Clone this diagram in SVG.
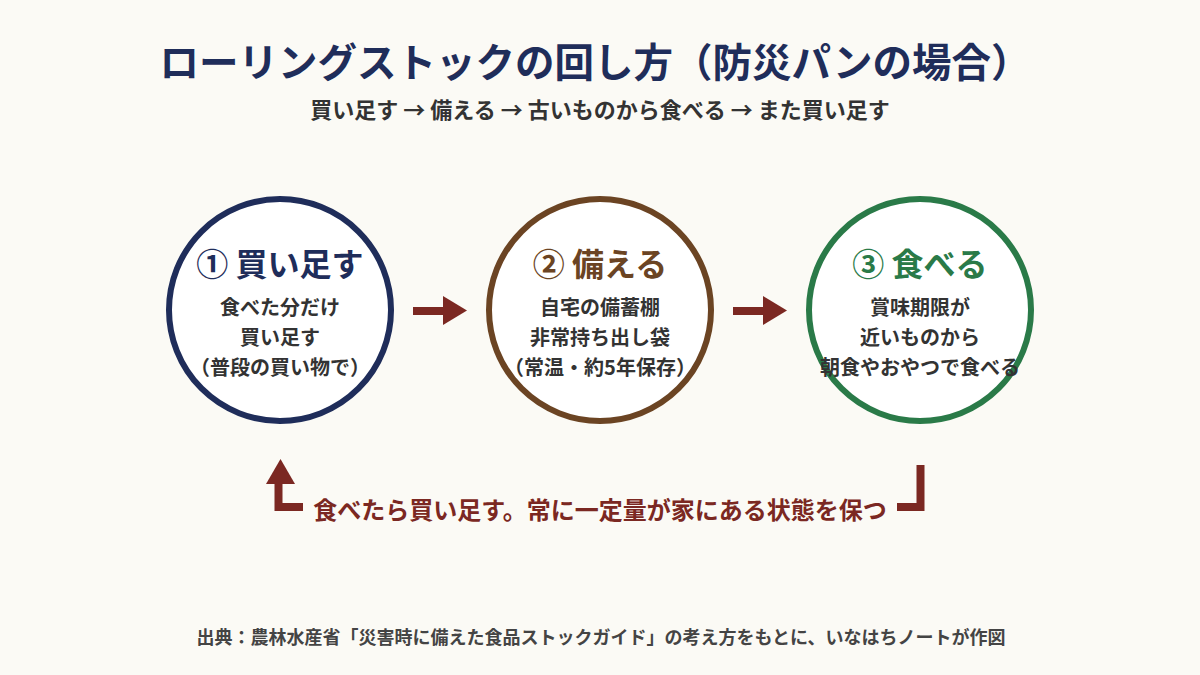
<svg xmlns="http://www.w3.org/2000/svg" width="1200" height="675" viewBox="0 0 1200 675">
<style>
text{font-family:"Noto Sans CJK JP","Noto Sans",sans-serif;font-weight:700;text-anchor:middle}
.title{font-size:39.5px;fill:#1f2d5a}
.sub{font-size:22px;fill:#333}
.ring{fill:#fff;stroke-width:6}
.head{font-size:32px}
.body{font-size:20px;fill:#333}
.loop{font-size:24px;fill:#7b2822}
.foot{font-size:18px;fill:#444}
.arr{fill:#7b2822}
.line{fill:none;stroke:#7b2822;stroke-width:8}
</style>
<rect width="1200" height="675" fill="#fbfaf5"/>
<text class="title" x="595" y="77">ローリングストックの回し方（防災パンの場合）</text>
<text class="sub" x="600" y="118">買い足す → 備える → 古いものから食べる → また買い足す</text>
<g id="node1">
<circle class="ring" cx="280" cy="310" r="111" stroke="#1f2d5a"/>
<text class="head" x="280" y="276" fill="#1f2d5a">① 買い足す</text>
<text class="body" x="280" y="315">食べた分だけ</text>
<text class="body" x="280" y="345">買い足す</text>
<text class="body" x="280" y="375">（普段の買い物で）</text>
</g>
<g id="node2">
<circle class="ring" cx="600" cy="310" r="111" stroke="#6b4423"/>
<text class="head" x="600" y="276" fill="#6b4423">② 備える</text>
<text class="body" x="600" y="315">自宅の備蓄棚</text>
<text class="body" x="600" y="345">非常持ち出し袋</text>
<text class="body" x="600" y="375">（常温・約5年保存）</text>
</g>
<g id="node3">
<circle class="ring" cx="920" cy="310" r="111" stroke="#2a7a48"/>
<text class="head" x="920" y="276" fill="#2a7a48">③ 食べる</text>
<text class="body" x="920" y="315">賞味期限が</text>
<text class="body" x="920" y="345">近いものから</text>
<text class="body" x="920" y="375">朝食やおやつで食べる</text>
</g>
<g id="connectors">
<rect class="arr" x="413" y="307" width="32" height="8"/>
<polygon class="arr" points="443,296 467,310.5 443,325"/>
<rect class="arr" x="733" y="307" width="32" height="8"/>
<polygon class="arr" points="763,296 787,310.5 763,325"/>
<polyline class="line" points="303,507 278.5,507 278.5,483"/>
<polygon class="arr" points="280.5,459 266,484 295,484"/>
<polyline class="line" points="897,507 920.5,507 920.5,465"/>
</g>
<text class="loop" x="600" y="519">食べたら買い足す。常に一定量が家にある状態を保つ</text>
<text class="foot" x="601" y="644">出典：農林水産省「災害時に備えた食品ストックガイド」の考え方をもとに、いなはちノートが作図</text>
</svg>
